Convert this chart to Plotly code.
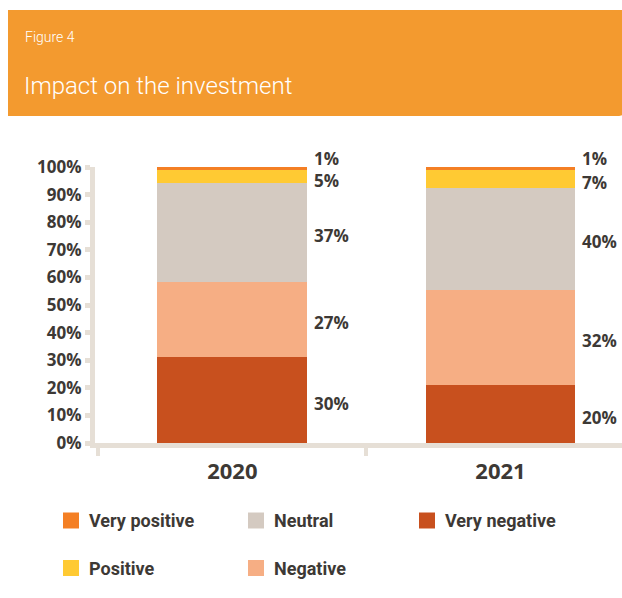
import plotly.graph_objects as go

# ---------------- data ----------------
years = ["2020", "2021"]
series_names = ["Very negative", "Negative", "Neutral", "Positive", "Very positive"]
very_negative = [31.0, 21.0]
negative = [27.5, 34.5]
neutral = [35.7, 37.0]
positive = [4.8, 6.5]
very_positive = [1.0, 1.0]
series_values = [very_negative, negative, neutral, positive, very_positive]
label_very_negative = ["30%", "20%"]
label_negative = ["27%", "32%"]
label_neutral = ["37%", "40%"]
label_positive = ["5%", "7%"]
label_very_positive = ["1%", "1%"]
series_labels = [label_very_negative, label_negative, label_neutral,
                 label_positive, label_very_positive]
y_tick_values = [0, 10, 20, 30, 40, 50, 60, 70, 80, 90, 100]
y_tick_labels = ["0%", "10%", "20%", "30%", "40%", "50%", "60%", "70%", "80%", "90%", "100%"]
legend_rows = [["Very positive", "Neutral", "Very negative"], ["Positive", "Negative"]]

# ---------------- styles ----------------
colors = {
    "Very negative": "#c8501e",
    "Negative": "#f6ae84",
    "Neutral": "#d4cac1",
    "Positive": "#ffca33",
    "Very positive": "#f47f24",
}
TXT = "#3d3935"
AXIS = "#e6dfd6"
ORANGE = "#f39a2f"
W, H = 622, 598
ML, MR, MT, MB = 95, 0, 167, 155
PW, PH = W - ML - MR, H - MT - MB
BOLD = "Open Sans"
COND = "Roboto"


def px_x(px):
    return (px - ML) / PW


def px_y(py):
    return (H - MB - py) / PH


fig = go.Figure()
for name, vals in zip(series_names, series_values):
    fig.add_trace(go.Bar(
        x=years, y=vals, name=name, marker=dict(color=colors[name], line=dict(width=0)),
        width=0.558, showlegend=False, hoverinfo="skip",
    ))

annotations = []
# bar value labels
for i, yr in enumerate(years):
    cum = 0
    for k, (name, vals, labs) in enumerate(zip(series_names, series_values, series_labels)):
        mid = cum + vals[i] / 2
        cum += vals[i]
        shift = -3
        if k == len(series_names) - 1:
            shift = 10
        elif k == len(series_names) - 2:
            shift = -4
        annotations.append(dict(
            x=i + 0.279, y=mid, xref="x", yref="y", text=labs[i], showarrow=False,
            xanchor="left", yanchor="middle", xshift=5, yshift=shift,
            font=dict(family=BOLD, size=17, color=TXT, weight="bold"),
        ))

# header texts
annotations.append(dict(x=px_x(23), y=px_y(37), xref="paper", yref="paper", text="Figure 4",
                        showarrow=False, xanchor="left", yanchor="middle",
                        font=dict(family="Roboto", size=14, color="white", weight=300)))
annotations.append(dict(x=px_x(22), y=px_y(86), xref="paper", yref="paper",
                        text="Impact on the investment", showarrow=False,
                        xanchor="left", yanchor="middle",
                        font=dict(family="Roboto", size=24, color="white", weight=300)))

shapes = []
# header band with rounded bottom-right corner
x0, x1, yt, yb, r = 8, 630, 10, 116, 14
path = (f"M {px_x(x0)},{px_y(yt)} L {px_x(x1)},{px_y(yt)} L {px_x(x1)},{px_y(yb - r)} "
        f"Q {px_x(x1)},{px_y(yb)} {px_x(x1 - r)},{px_y(yb)} L {px_x(x0)},{px_y(yb)} Z")
shapes.append(dict(type="path", xref="paper", yref="paper", path=path,
                   fillcolor=ORANGE, line=dict(width=0), layer="below"))

# legend
col_x = [63, 248, 419]
row_y = [520.5, 568]
for r_i, row in enumerate(legend_rows):
    for c_i, name in enumerate(row):
        sx, sy = col_x[c_i], row_y[r_i]
        shapes.append(dict(type="rect", xref="paper", yref="paper",
                           x0=px_x(sx), x1=px_x(sx + 16), y0=px_y(sy + 8), y1=px_y(sy - 8),
                           fillcolor=colors[name], line=dict(width=0)))
        annotations.append(dict(x=px_x(sx + 24), y=px_y(sy), xref="paper", yref="paper",
                                text=name, showarrow=False, xanchor="left", yanchor="middle",
                                font=dict(family=COND, size=18, color=TXT, weight="bold")))

fig.update_layout(
    width=W, height=H, margin=dict(l=ML, r=MR, t=MT, b=MB),
    paper_bgcolor="white", plot_bgcolor="white", barmode="stack",
    showlegend=False, annotations=annotations, shapes=shapes,
    xaxis=dict(type="category", range=[-0.512, 1.453], showline=True, linecolor=AXIS,
               linewidth=5, ticks="outside", tickson="boundaries", ticklen=8, tickwidth=4,
               tickcolor=AXIS, showgrid=False, zeroline=False, fixedrange=True,
               ticklabelstandoff=5,
               tickfont=dict(family=BOLD, size=22, color=TXT, weight="bold")),
    yaxis=dict(range=[0, 100], tickvals=y_tick_values, ticktext=y_tick_labels,
               showline=True, linecolor=AXIS, linewidth=5, ticks="outside", ticklen=5,
               tickwidth=5, tickcolor=AXIS, showgrid=False, zeroline=False,
               tickfont=dict(family=BOLD, size=17, color=TXT, weight="bold")),
)

fig.write_html("out.html")
